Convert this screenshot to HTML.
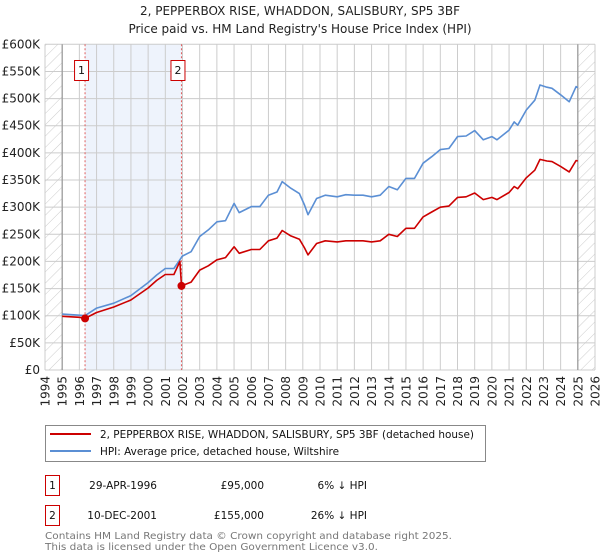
<!DOCTYPE html>
<html><head><meta charset="utf-8"><style>
body{margin:0;background:#fff}
svg{display:block;font-family:"DejaVu Sans","Liberation Sans",sans-serif}
</style></head><body>
<svg id="chart" width="600" height="560" viewBox="0 0 600 560">
<defs>
<pattern id="hatch" width="8" height="8" patternUnits="userSpaceOnUse" patternTransform="rotate(45)">
<line x1="0" y1="0" x2="0" y2="8" stroke="#ccc" stroke-width="1"/>
</pattern>
</defs>
<text x="300" y="15" text-anchor="middle" font-size="12" fill="#222">2, PEPPERBOX RISE, WHADDON, SALISBURY, SP5 3BF</text>
<text x="300" y="33" text-anchor="middle" font-size="12" fill="#222">Price paid vs. HM Land Registry's House Price Index (HPI)</text>
<g id="plot"></g>
<g>
<rect x="45.5" y="425.5" width="440" height="36" fill="#fff" stroke="#888"/>
<line x1="50" y1="434" x2="91" y2="434" stroke="#cc0000" stroke-width="2"/>
<text x="100" y="438" font-size="10.5" fill="#111" textLength="374" lengthAdjust="spacingAndGlyphs">2, PEPPERBOX RISE, WHADDON, SALISBURY, SP5 3BF (detached house)</text>
<line x1="50" y1="451" x2="91" y2="451" stroke="#5b8fd4" stroke-width="2"/>
<text x="100" y="455" font-size="10.5" fill="#111" textLength="239" lengthAdjust="spacingAndGlyphs">HPI: Average price, detached house, Wiltshire</text>
</g>
<g font-size="10.5" fill="#111">
<rect x="45.5" y="475.5" width="14" height="20" fill="#fff" stroke="#cc0000"/>
<text x="52.5" y="489" text-anchor="middle">1</text>
<text x="157" y="489" text-anchor="end">29-APR-1996</text>
<text x="264" y="489" text-anchor="end">£95,000</text>
<text x="367" y="489" text-anchor="end">6% ↓ HPI</text>
<rect x="45.5" y="505.5" width="14" height="20" fill="#fff" stroke="#cc0000"/>
<text x="52.5" y="519" text-anchor="middle">2</text>
<text x="157" y="519" text-anchor="end">10-DEC-2001</text>
<text x="264" y="519" text-anchor="end">£155,000</text>
<text x="367" y="519" text-anchor="end">26% ↓ HPI</text>
</g>
<text x="45" y="539" font-size="10" fill="#777" textLength="407" lengthAdjust="spacingAndGlyphs">Contains HM Land Registry data © Crown copyright and database right 2025.</text>
<text x="45" y="550" font-size="10" fill="#777" textLength="333" lengthAdjust="spacingAndGlyphs">This data is licensed under the Open Government Licence v3.0.</text>
</svg>
<script>
const yearTicks = [1994,1995,1996,1997,1998,1999,2000,2001,2002,2003,2004,2005,2006,2007,2008,2009,2010,2011,2012,2013,2014,2015,2016,2017,2018,2019,2020,2021,2022,2023,2024,2025,2026];
const valueTicks = [0,50,100,150,200,250,300,350,400,450,500,550,600];
const valueTickLabels = ["£0","£50K","£100K","£150K","£200K","£250K","£300K","£350K","£400K","£450K","£500K","£550K","£600K"];
const hpiYears = [1995,1996,1996.33,1997,1998,1999,2000,2000.5,2001,2001.5,2002,2002.5,2003,2003.5,2004,2004.5,2005,2005.3,2006,2006.5,2007,2007.5,2007.8,2008.3,2008.8,2009.1,2009.3,2009.8,2010.3,2011,2011.5,2012,2012.5,2013,2013.5,2014,2014.5,2015,2015.5,2016,2016.5,2017,2017.5,2018,2018.5,2019,2019.5,2020,2020.3,2021,2021.3,2021.5,2022,2022.5,2022.8,2023.2,2023.5,2024,2024.5,2024.9,2025];
const hpiValues = [103,101,100,114,123,137,161,175,187,187,210,218,246,258,273,275,307,290,301,301,322,328,347,335,325,304,286,316,322,319,323,322,322,319,322,338,332,353,353,381,393,406,408,430,431,441,424,430,424,442,457,451,479,497,525,521,519,507,494,522,520];
const priceYears = [1995,1996,1996.33,1997,1998,1999,2000,2000.5,2001,2001.5,2001.85,2001.94,2002.5,2003,2003.5,2004,2004.5,2005,2005.3,2006,2006.5,2007,2007.5,2007.8,2008.3,2008.8,2009.1,2009.3,2009.8,2010.3,2011,2011.5,2012,2012.5,2013,2013.5,2014,2014.5,2015,2015.5,2016,2016.5,2017,2017.5,2018,2018.5,2019,2019.5,2020,2020.3,2021,2021.3,2021.5,2022,2022.5,2022.8,2023.2,2023.5,2024,2024.5,2024.9,2025];
const priceValues = [99,97,95,106,116,129,151,165,176,176,200,155,162,184,192,203,207,227,215,222,222,238,243,257,247,241,225,212,233,238,236,238,238,238,236,238,250,246,261,261,282,291,300,302,318,319,326,314,318,314,327,338,334,354,368,388,385,384,375,365,386,385];
const saleYears = [1996.33,2001.94];
const saleValues = [95,155];
const saleLabels = ["1","2"];

const NS="http://www.w3.org/2000/svg";
const X0=45,X1=595,Y0=370,Y1=44.3;
const xS=y=>X0+(y-1994)/(2026-1994)*(X1-X0);
const yS=v=>Y0-v/600*(Y0-Y1);
const plot=document.getElementById('plot');
function mk(tag,attrs){const e=document.createElementNS(NS,tag);for(const k in attrs)e.setAttribute(k,attrs[k]);return e;}

let e=mk('rect',{x:xS(saleYears[0]),y:Y1,width:xS(saleYears[1])-xS(saleYears[0]),height:Y0-Y1,fill:'#eef3fc'});


plot.appendChild(e);
valueTicks.forEach((v,i)=>{
  let l=mk('line',{x1:X0,x2:X1,y1:yS(v),y2:yS(v),stroke:'#ccc'});
  
  
  plot.appendChild(l);
  let t=mk('text',{x:40,y:yS(v)+4,'text-anchor':'end','font-size':'12',fill:'#222'});
  t.textContent=valueTickLabels[i];
  
  
  plot.appendChild(t);
});
yearTicks.forEach(y=>{
  let l=mk('line',{x1:xS(y),x2:xS(y),y1:Y1,y2:Y0,stroke:'#ccc'});
  
  
  plot.appendChild(l);
  let t=mk('text',{x:0,y:0,'text-anchor':'end','font-size':'12',fill:'#222',transform:`translate(${xS(y)+4.5},376) rotate(-90)`});
  t.textContent=String(y);
  
  
  plot.appendChild(t);
});
[[1994,1995],[2025,2026]].forEach(r=>{
  let h=mk('rect',{x:xS(r[0]),y:Y1,width:xS(r[1])-xS(r[0]),height:Y0-Y1,fill:'url(#hatch)'});
  
  
  plot.appendChild(h);
});
[1995,2025].forEach(y=>{
  let l=mk('line',{x1:xS(y),x2:xS(y),y1:Y1,y2:Y0,stroke:'#999','stroke-width':1.2});
  
  
  plot.appendChild(l);
});
saleYears.forEach((y,i)=>{
  let l=mk('line',{x1:xS(y),x2:xS(y),y1:Y1,y2:Y0,stroke:'#e06060','stroke-dasharray':'2,2'});
  
  
  plot.appendChild(l);
  let b=mk('rect',{x:xS(y)-10.5,y:60.5,width:14,height:20,fill:'#fff',stroke:'#cc0000'});
  
  
  plot.appendChild(b);
  let t=mk('text',{x:xS(y)-3.5,y:74,'text-anchor':'middle','font-size':'11',fill:'#111'});
  t.textContent=saleLabels[i];
  
  
  plot.appendChild(t);
});
function path(xs,vs,color,name){
  let d=xs.map((x,i)=>(i?'L':'M')+xS(x).toFixed(1)+','+yS(vs[i]).toFixed(1)).join('');
  let p=mk('path',{d:d,fill:'none',stroke:color,'stroke-width':1.6,'stroke-linejoin':'round'});
  
  
  plot.appendChild(p);
}
path(hpiYears,hpiValues,'#5b8fd4','hpi-line');
path(priceYears,priceValues,'#cc0000','price-paid-line');
saleYears.forEach((y,i)=>{
  let c=mk('circle',{cx:xS(y),cy:yS(saleValues[i]),r:4,fill:'#cc0000'});
  
  
  plot.appendChild(c);
});
</script>
</body></html>
